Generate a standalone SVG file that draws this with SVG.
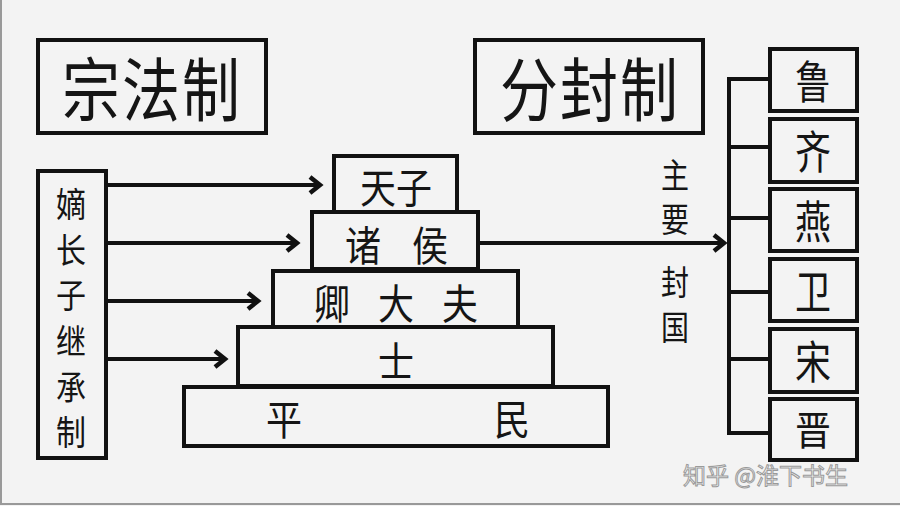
<svg xmlns="http://www.w3.org/2000/svg" width="900" height="506" viewBox="0 0 900 506">
<style>
.bx{fill:none;stroke:#111;stroke-width:4}
.ln{fill:none;stroke:#111;stroke-width:4}
.t{font-family:"Noto Sans CJK SC","Noto Sans CJK JP",sans-serif;fill:#151515;text-anchor:middle;dominant-baseline:central}
</style>
<defs>
<marker id="ah" viewBox="-14 -12 18 24" markerWidth="18" markerHeight="24" refX="0" refY="0" orient="auto" markerUnits="userSpaceOnUse">
<path d="M-10,-8 L0,0 L-10,8" fill="none" stroke="#111" stroke-width="4.5" stroke-linejoin="miter"/>
</marker>
</defs>
<rect x="0" y="0" width="900" height="506" fill="#f3f3f3"/>
<line x1="1" y1="0" x2="1" y2="504" stroke="#999" stroke-width="2"/>
<line x1="0" y1="504" x2="900" y2="504" stroke="#999" stroke-width="2"/>

<g id="title-zongfa">
<rect class="bx" x="38" y="40" width="228" height="93"/>
<g transform="translate(152,86) scale(1,1.2)"><text class="t" font-size="58" letter-spacing="2">宗法制</text></g>
</g>
<g id="title-fenfeng">
<rect class="bx" x="475" y="40" width="228" height="93"/>
<g transform="translate(590,86) scale(1,1.2)"><text class="t" font-size="58" letter-spacing="2">分封制</text></g>
</g>

<g id="dizhangzi">
<rect class="bx" x="38" y="171" width="68" height="287"/>
<g transform="translate(71,202) scale(1,1.15)"><text class="t" font-size="30">嫡</text></g>
<g transform="translate(71,248) scale(1,1.15)"><text class="t" font-size="30">长</text></g>
<g transform="translate(71,293) scale(1,1.15)"><text class="t" font-size="30">子</text></g>
<g transform="translate(71,339) scale(1,1.15)"><text class="t" font-size="30">继</text></g>
<g transform="translate(71,385) scale(1,1.15)"><text class="t" font-size="30">承</text></g>
<g transform="translate(71,430) scale(1,1.15)"><text class="t" font-size="30">制</text></g>
</g>

<g id="tianzi">
<rect class="bx" x="334" y="156" width="123" height="56"/>
<g transform="translate(396,185) scale(1,1.15)"><text class="t" font-size="36">天子</text></g>
</g>
<g id="zhuhou">
<rect class="bx" x="312" y="212" width="166" height="57"/>
<g transform="translate(363,243) scale(1,1.15)"><text class="t" font-size="36">诸</text></g>
<g transform="translate(430,243) scale(1,1.15)"><text class="t" font-size="36">侯</text></g>
</g>
<g id="qingdafu">
<rect class="bx" x="273" y="271" width="245" height="56"/>
<g transform="translate(332,301) scale(1,1.15)"><text class="t" font-size="36">卿</text></g>
<g transform="translate(396,301) scale(1,1.15)"><text class="t" font-size="36">大</text></g>
<g transform="translate(460,301) scale(1,1.15)"><text class="t" font-size="36">夫</text></g>
</g>
<g id="shi">
<rect class="bx" x="238" y="327" width="315" height="59"/>
<g transform="translate(396,359) scale(1,1.15)"><text class="t" font-size="36">士</text></g>
</g>
<g id="pingmin">
<rect class="bx" x="184" y="387" width="424" height="59"/>
<g transform="translate(284,417) scale(1,1.15)"><text class="t" font-size="36">平</text></g>
<g transform="translate(512,417) scale(1,1.15)"><text class="t" font-size="36">民</text></g>
</g>

<g id="lu"><rect class="bx" x="770" y="49" width="87" height="62"/>
<g transform="translate(813,80) scale(1,1.25)"><text class="t" font-size="36">鲁</text></g></g>
<g id="qi"><rect class="bx" x="770" y="119" width="87" height="63"/>
<g transform="translate(813,150) scale(1,1.25)"><text class="t" font-size="36">齐</text></g></g>
<g id="yan"><rect class="bx" x="770" y="189" width="87" height="62"/>
<g transform="translate(813,220) scale(1,1.25)"><text class="t" font-size="36">燕</text></g></g>
<g id="wei"><rect class="bx" x="770" y="259" width="87" height="62"/>
<g transform="translate(813,290) scale(1,1.25)"><text class="t" font-size="36">卫</text></g></g>
<g id="song"><rect class="bx" x="770" y="329" width="87" height="63"/>
<g transform="translate(813,360) scale(1,1.25)"><text class="t" font-size="36">宋</text></g></g>
<g id="jin"><rect class="bx" x="770" y="399" width="87" height="61"/>
<g transform="translate(813,428) scale(1,1.12)"><text class="t" font-size="36">晋</text></g></g>

<g id="label-zhuyao">
<g transform="translate(675,173) scale(1,1.2)"><text class="t" font-size="28">主</text></g>
<g transform="translate(675,217) scale(1,1.2)"><text class="t" font-size="28">要</text></g>
<g transform="translate(675,280) scale(1,1.2)"><text class="t" font-size="28">封</text></g>
<g transform="translate(675,325) scale(1,1.2)"><text class="t" font-size="28">国</text></g>
</g>

<g id="connectors">
<line class="ln" x1="106" y1="185" x2="320" y2="185" marker-end="url(#ah)"/>
<line class="ln" x1="106" y1="243" x2="297" y2="243" marker-end="url(#ah)"/>
<line class="ln" x1="106" y1="301" x2="258" y2="301" marker-end="url(#ah)"/>
<line class="ln" x1="106" y1="359" x2="225" y2="359" marker-end="url(#ah)"/>
<line class="ln" x1="478" y1="243" x2="724" y2="243" marker-end="url(#ah)"/>
<path class="ln" d="M770,79 H729 V433 H770"/>
<line class="ln" x1="729" y1="147" x2="770" y2="147"/>
<line class="ln" x1="729" y1="218" x2="770" y2="218"/>
<line class="ln" x1="729" y1="292" x2="770" y2="292"/>
<line class="ln" x1="729" y1="359" x2="770" y2="359"/>
</g>

<text x="683" y="484" font-family="Noto Sans CJK SC,sans-serif" font-size="23" fill="#f6f6f6" stroke="#9a9a9a" stroke-width="1">知乎 @淮下书生</text>
</svg>
